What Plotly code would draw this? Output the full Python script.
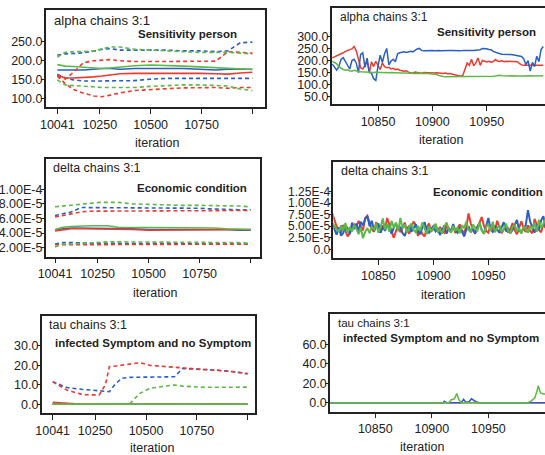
import plotly.graph_objects as go

W, H = 545, 455
BLUE, RED, GREEN = "#2c5fc3", "#ee3a2f", "#5db947"
INK = "#222222"
FONT = "Liberation Sans, Arial, sans-serif"

# ---------------- left panels: running quantiles (iteration grid) ----------------
grid_iter = [10041, 10080, 10120, 10170, 10220, 10260, 10300, 10350, 10420, 10500,
             10580, 10660, 10740, 10820, 10880, 10940, 11000]

alpha_blue_hi = [215, 218, 219, 221, 225, 230, 232, 228, 228, 228, 228, 226, 226, 224, 226, 247, 249]
alpha_blue_med = [176, 176, 176, 176, 178, 180, 180, 178, 180, 180, 180, 180, 178, 176, 178, 178, 178]
alpha_blue_lo = [165, 155, 150, 147, 147, 147, 147, 147, 148, 152, 154, 154, 154, 154, 154, 154, 154]
alpha_red_hi = [160, 152, 170, 195, 200, 202, 203, 200, 198, 198, 198, 198, 198, 199, 224, 222, 220]
alpha_red_med = [163, 155, 155, 156, 158, 160, 162, 166, 167, 167, 168, 168, 167, 166, 165, 168, 170]
alpha_red_lo = [160, 140, 125, 115, 108, 106, 110, 116, 122, 125, 127, 129, 130, 130, 128, 130, 130]
alpha_green_hi = [210, 222, 224, 224, 226, 232, 236, 236, 230, 228, 225, 224, 222, 222, 222, 220, 218]
alpha_green_med = [190, 186, 185, 183, 181, 180, 181, 184, 187, 189, 188, 186, 184, 182, 180, 178, 177]
alpha_green_lo = [150, 137, 135, 134, 132, 130, 130, 130, 130, 133, 135, 137, 137, 136, 134, 126, 122]

# delta values in units of 1e-5
delta_blue_hi = [6.4, 6.6, 6.9, 7.5, 7.5, 7.5, 7.5, 7.5, 7.5, 7.5, 7.5, 7.4, 7.4, 7.3, 7.2, 7.2, 7.2]
delta_blue_med = [4.4, 4.6, 4.7, 4.7, 4.6, 4.6, 4.6, 4.6, 4.6, 4.5, 4.5, 4.5, 4.5, 4.6, 4.5, 4.4, 4.4]
delta_blue_lo = [2.5, 2.7, 2.7, 2.6, 2.6, 2.6, 2.6, 2.6, 2.6, 2.6, 2.6, 2.6, 2.5, 2.5, 2.5, 2.5, 2.5]
delta_red_hi = [6.2, 6.4, 6.6, 6.9, 7.0, 7.0, 7.0, 7.0, 7.0, 7.0, 7.0, 7.0, 7.0, 7.0, 7.1, 7.1, 7.1]
delta_red_med = [4.3, 4.5, 4.6, 4.6, 4.6, 4.5, 4.5, 4.5, 4.5, 4.4, 4.4, 4.5, 4.5, 4.5, 4.5, 4.5, 4.5]
delta_red_lo = [2.4, 2.4, 2.4, 2.4, 2.4, 2.4, 2.5, 2.5, 2.5, 2.5, 2.5, 2.5, 2.5, 2.5, 2.5, 2.5, 2.5]
delta_green_hi = [7.6, 7.7, 7.8, 8.0, 8.1, 8.2, 8.2, 8.2, 8.0, 7.9, 7.8, 7.8, 7.8, 7.8, 7.7, 7.7, 7.6]
delta_green_med = [4.5, 4.8, 4.9, 5.0, 5.0, 5.0, 5.0, 4.8, 4.8, 4.7, 4.7, 4.7, 4.7, 4.7, 4.6, 4.6, 4.5]
delta_green_lo = [2.1, 2.5, 2.5, 2.6, 2.7, 2.8, 2.8, 2.8, 2.8, 2.8, 2.8, 2.8, 2.8, 2.8, 2.8, 2.7, 2.6]

tau_iter = [10041, 10110, 10190, 10270, 10300, 10320, 10350, 10380, 10420, 10470,
            10520, 10600, 10640, 10680, 10760, 10850, 10930, 11000]
tau_blue_hi = [11.6, 8.6, 7.6, 6.8, 6.6, 6.5, 10.5, 13.3, 13.8, 13.8, 13.8, 14.0, 14.1, 18.3, 17.9, 17.5, 16.7, 15.5]
tau_blue_med = [0] * 18
tau_blue_lo = [0] * 18
tau_red_hi = [11.6, 7.3, 4.9, 4.8, 10.0, 19.3, 19.6, 20.0, 20.5, 21.3, 19.9, 19.3, 19.0, 18.4, 17.9, 17.5, 16.7, 15.8]
tau_red_med = [1.0, 0.6, 0, 0, 0, 0, 0, 0, 0, 0, 0, 0, 0, 0, 0, 0, 0, 0]
tau_red_lo = [0] * 18
tau_green_hi = [0, 0, 0, 0, 0, 0, 0, 0, 0.3, 5.6, 8.2, 9.4, 9.9, 9.3, 8.8, 8.7, 8.7, 8.8]
tau_green_med = [0] * 18
tau_green_lo = [0] * 18

# ---------------- right panels: trace history ----------------
trace_iter = list(range(10808, 11003, 2))

alpha_blue_trace = [185, 172, 160, 175, 205, 212, 195, 178, 165, 200,
                    205, 190, 150, 225, 232, 172, 210, 150, 148, 125,
                    118, 178, 222, 192, 228, 250, 182, 198, 205, 195,
                    228, 232, 234, 236, 233, 236, 238, 236, 242, 248,
                    250, 242, 240, 241, 239, 240, 241, 240, 242, 241,
                    240, 241, 242, 240, 241, 241, 240, 242, 241, 240,
                    242, 241, 240, 242, 241, 242, 243, 242, 245, 250,
                    250, 249, 246, 245, 238, 234, 232, 228, 226, 225,
                    225, 224, 225, 224, 222, 219, 218, 217, 208, 183,
                    200, 156, 192, 175, 218, 195, 245, 258]
alpha_red_trace = [211, 215, 220, 222, 226, 232, 238, 240, 245, 248,
                   258, 240, 204, 170, 165, 183, 197, 150, 195, 175,
                   197, 180, 163, 190, 175, 170, 172, 165, 168, 162,
                   165, 160, 158, 156, 158, 152, 150, 148, 152, 150,
                   148, 147, 150, 149, 148, 150, 147, 148, 149, 147,
                   148, 146, 148, 145, 146, 144, 140, 138, 136, 135,
                   138, 165, 190, 180, 205, 178, 190, 211, 180, 200,
                   196, 194, 197, 193, 196, 204, 198, 196, 199, 195,
                   197, 196, 198, 194, 196, 195, 188, 182, 180, 181,
                   179, 180, 181, 180, 179, 180, 181, 180]
alpha_green_trace = [197, 192, 186, 175, 168, 163, 160, 162, 158, 156,
                     160, 156, 155, 154, 153, 154, 152, 153, 152, 151,
                     152, 151, 150, 151, 150, 150, 149, 150, 149, 149,
                     148, 149, 148, 148, 147, 148, 147, 147, 146, 147,
                     146, 146, 147, 146, 146, 145, 146, 145, 142, 138,
                     135, 134, 133, 133, 132, 133, 132, 132, 133, 132,
                     132, 133, 132, 132, 133, 132, 133, 132, 132, 133,
                     133, 132, 133, 134, 135, 136, 139, 139, 137, 136,
                     136, 136, 137, 136, 136, 137, 136, 136, 137, 136,
                     136, 137, 136, 136, 137, 136, 136, 137]

# delta traces in units of 1e-5
delta_blue_trace = [5.5, 4.2, 3.2, 4.8, 3.0, 3.5, 5.2, 4.6, 3.3, 5.8,
                    4.4, 5.6, 3.9, 6.0, 5.2, 6.6, 7.2, 5.0, 6.2, 4.1,
                    4.8, 5.6, 3.6, 4.9, 4.0, 5.3, 4.5, 3.4, 4.7, 5.6,
                    4.2, 4.9, 3.5, 2.9, 4.4, 5.1, 3.8, 4.6, 5.4, 4.0,
                    3.3, 4.8, 5.9, 4.2, 3.6, 4.4, 5.0, 3.9, 4.5, 3.1,
                    4.0, 5.2, 3.4, 4.6, 3.8, 5.5, 4.1, 3.6, 4.9, 3.9,
                    2.8, 4.3, 5.0, 3.7, 4.5, 3.5, 4.8, 5.6, 4.2, 3.4,
                    4.9, 6.8, 4.3, 3.8, 5.1, 4.4, 3.6, 4.7, 5.9, 3.9,
                    4.5, 3.5, 4.2, 5.3, 6.4, 4.0, 3.7, 4.6, 5.2, 8.5,
                    6.0, 4.8, 3.6, 5.4, 4.2, 6.3, 7.2, 5.0]
delta_red_trace = [7.8, 6.5, 5.0, 4.2, 3.6, 5.3, 4.0, 2.8, 3.5, 4.6,
                   5.4, 4.8, 6.2, 5.0, 4.1, 6.8, 7.3, 5.7, 4.4, 3.8,
                   5.9, 4.5, 3.6, 5.2, 4.3, 6.8, 5.5, 3.9, 2.5, 4.0,
                   5.1, 3.7, 4.9, 5.8, 4.1, 3.4, 4.7, 6.0, 5.3, 2.9,
                   4.4, 3.3, 2.8, 4.6, 5.6, 3.9, 4.3, 5.5, 3.7, 4.9,
                   4.1, 3.6, 5.2, 4.4, 3.8, 5.0, 3.5, 4.6, 5.4, 4.0,
                   3.7, 4.8, 7.8, 5.6, 4.2, 3.4, 4.9, 5.8, 7.0, 5.1,
                   4.0, 3.6, 5.3, 4.5, 3.9, 6.2, 4.8, 3.5, 4.3, 5.0,
                   3.6, 4.4, 5.7, 4.1, 3.3, 4.9, 6.1, 4.5, 3.8, 5.2,
                   4.0, 3.5, 6.6, 5.4, 4.2, 3.7, 5.5, 4.6]
delta_green_trace = [5.8, 5.0, 4.4, 3.8, 5.2, 4.1, 5.7, 3.6, 4.8, 3.9,
                     5.3, 4.5, 3.3, 4.7, 2.4, 3.8, 4.6, 3.5, 4.9, 4.2,
                     5.6, 3.6, 4.8, 6.7, 4.3, 5.5, 3.8, 6.2, 4.7, 5.8,
                     3.9, 6.8, 4.5, 5.4, 3.6, 4.9, 5.6, 4.2, 3.7, 5.1,
                     4.0, 5.8, 4.4, 3.3, 5.0, 3.9, 4.6, 5.5, 3.8, 4.4,
                     3.4, 4.9, 5.8, 4.3, 3.6, 5.1, 4.0, 4.7, 3.5, 5.2,
                     4.6, 6.0, 4.2, 3.8, 5.4, 4.5, 3.9, 5.9, 4.1, 3.4,
                     4.8, 5.5, 4.0, 6.0, 3.7, 4.6, 5.2, 3.8, 4.4, 5.6,
                     4.1, 3.5, 4.9, 5.3, 3.9, 4.6, 3.4, 5.0, 4.3, 3.6,
                     5.1, 4.4, 5.8, 3.8, 6.4, 4.7, 5.5, 6.6]

tau_blue_trace_iter = [10808, 10910, 10911, 10913, 10926, 10928, 10930, 10933, 10935, 10937, 10939, 10942, 11004]
tau_blue_trace = [0, 0, 1.5, 0, 0, 3.5, 0.5, 1.0, 4.0, 2.0, 1.0, 0, 0]
tau_red_trace_iter = [10808, 11004]
tau_red_trace = [0, 0]
tau_green_trace_iter = [10808, 10915, 10917, 10919, 10920, 10922, 10924, 10926, 10985, 10988,
                        10991, 10993, 10994, 10996, 10999, 11004]
tau_green_trace = [0, 0, 3, 4, 4, 9.5, 3, 0, 0, 2, 5, 12, 17.5, 10, 9, 8.5]

E5 = 1e-5


def sc(vals):
    return [v * E5 for v in vals]


fig = go.Figure()

DASH = "4px,3px"


def add_quant(ax, xs, hi, med, lo, color):
    xa, ya = ("x" if ax == 1 else "x%d" % ax), ("y" if ax == 1 else "y%d" % ax)
    for vals, dash in ((hi, DASH), (med, "solid"), (lo, DASH)):
        fig.add_trace(go.Scatter(x=xs, y=vals, mode="lines", xaxis=xa, yaxis=ya,
                                 line=dict(color=color, width=1.6, dash=dash),
                                 showlegend=False, hoverinfo="skip"))


def add_line(ax, xs, ys, color, width=1.5):
    xa, ya = ("x" if ax == 1 else "x%d" % ax), ("y" if ax == 1 else "y%d" % ax)
    fig.add_trace(go.Scatter(x=xs, y=ys, mode="lines", xaxis=xa, yaxis=ya,
                             line=dict(color=color, width=width),
                             showlegend=False, hoverinfo="skip"))


# panel 1 (left alpha)
add_quant(1, grid_iter, alpha_blue_hi, alpha_blue_med, alpha_blue_lo, BLUE)
add_quant(1, grid_iter, alpha_red_hi, alpha_red_med, alpha_red_lo, RED)
add_quant(1, grid_iter, alpha_green_hi, alpha_green_med, alpha_green_lo, GREEN)
# panel 2 (right alpha)
add_line(2, trace_iter, alpha_red_trace, RED)
add_line(2, trace_iter, alpha_blue_trace, BLUE)
add_line(2, trace_iter, alpha_green_trace, GREEN)
# panel 3 (left delta)
add_quant(3, grid_iter, sc(delta_blue_hi), sc(delta_blue_med), sc(delta_blue_lo), BLUE)
add_quant(3, grid_iter, sc(delta_red_hi), sc(delta_red_med), sc(delta_red_lo), RED)
add_quant(3, grid_iter, sc(delta_green_hi), sc(delta_green_med), sc(delta_green_lo), GREEN)
# panel 4 (right delta)
add_line(4, trace_iter, sc(delta_red_trace), RED, 2)
add_line(4, trace_iter, sc(delta_blue_trace), BLUE, 2)
add_line(4, trace_iter, sc(delta_green_trace), GREEN, 2)
# panel 5 (left tau)
add_quant(5, tau_iter, tau_blue_hi, tau_blue_med, tau_blue_lo, BLUE)
add_quant(5, tau_iter, tau_red_hi, tau_red_med, tau_red_lo, RED)
add_quant(5, tau_iter, tau_green_hi, tau_green_med, tau_green_lo, GREEN)
# panel 6 (right tau)
add_line(6, tau_red_trace_iter, tau_red_trace, RED)
add_line(6, tau_blue_trace_iter, tau_blue_trace, BLUE)
add_line(6, tau_green_trace_iter, tau_green_trace, GREEN)

# panel geometry in pixels: left, right, top, bottom
boxes = {
    1: (45.7, 265, 10, 107),
    2: (331.7, 545, 8.3, 104.3),
    3: (45.7, 260, 159.3, 256.7),
    4: (333.3, 545, 161.7, 258.3),
    5: (41.7, 255, 316, 413.3),
    6: (330, 545, 314, 411.7),
}
xranges = {1: [9984, 11062], 2: [10807.4, 11003.6], 3: [9995.4, 11045.6],
           4: [10809, 11001.5], 5: [9987, 11036], 6: [10810, 11000]}
yranges = {1: [79, 333], 2: [19, 416], 3: [0.77e-5, 1.41e-4], 4: [-1.94e-5, 1.90e-4],
           5: [-4.6, 45.2], 6: [-9.2, 91]}

left_xticks = [10041, 10250, 10500, 10750, 11000]
left_xtext = ["10041", "10250", "10500", "10750", ""]
right_xticks = [10850, 10900, 10950]
right_xtext = ["10850", "10900", "10950"]

yticks = {
    1: ([100, 150, 200, 250], ["100.0", "150.0", "200.0", "250.0"]),
    2: ([50, 100, 150, 200, 250, 300], ["50.0", "100.0", "150.0", "200.0", "250.0", "300.0"]),
    3: ([2e-5, 4e-5, 6e-5, 8e-5, 1e-4], ["2.00E-5", "4.00E-5", "6.00E-5", "8.00E-5", "1.00E-4"]),
    4: ([0, 2.5e-5, 5e-5, 7.5e-5, 1e-4, 1.25e-4], ["0.0", "2.50E-5", "5.00E-5", "7.50E-5", "1.00E-4", "1.25E-4"]),
    5: ([0, 10, 20, 30], ["0.0", "10.0", "20.0", "30.0"]),
    6: ([0, 20, 40, 60], ["0.0", "20.0", "40.0", "60.0"]),
}

layout = dict(width=W, height=H, margin=dict(l=0, r=0, t=0, b=0),
              paper_bgcolor="white", plot_bgcolor="white", template="none",
              font=dict(family=FONT, color=INK, size=12), showlegend=False)

for i in range(1, 7):
    l, r, t, b = boxes[i]
    left = i % 2 == 1
    xk = "xaxis" if i == 1 else "xaxis%d" % i
    yk = "yaxis" if i == 1 else "yaxis%d" % i
    an = "" if i == 1 else str(i)
    layout[xk] = dict(domain=[l / W, r / W], range=xranges[i], anchor="y" + an,
                      showline=True, linecolor=INK, linewidth=1.5, mirror=True,
                      ticks="outside", ticklen=5, tickwidth=1.2, tickcolor=INK,
                      tickvals=left_xticks if left else right_xticks,
                      ticktext=left_xtext if left else right_xtext,
                      tickfont=dict(size=12.5, family=FONT, color=INK),
                      showgrid=False, zeroline=False, automargin=False, fixedrange=True)
    tv, tt = yticks[i]
    layout[yk] = dict(domain=[1 - b / H, 1 - t / H], range=yranges[i], anchor="x" + an,
                      showline=True, linecolor=INK, linewidth=1.5, mirror=left,
                      ticks="outside", ticklen=3, tickwidth=1.2, tickcolor=INK,
                      ticklabelstandoff=-4,
                      tickvals=tv, ticktext=tt,
                      tickfont=dict(size=12.5 if i != 4 else 12, family=FONT, color=INK),
                      showgrid=False, zeroline=False, automargin=False, fixedrange=True)

annos = []


def txt(text, x, y, size, bold=False, anchor="left"):
    annos.append(dict(text=("<b>%s</b>" % text) if bold else text, x=x / W, y=1 - y / H,
                      xref="paper", yref="paper", xanchor=anchor, yanchor="middle",
                      showarrow=False, font=dict(size=size, family=FONT, color=INK)))


txt("alpha chains 3:1", 52, 20.5, 13.2)
txt("Sensitivity person", 136, 34.3, 11.5, True)
txt("alpha chains 3:1", 337.5, 16.7, 12)
txt("Sensitivity person", 435, 31.7, 11.5, True)
txt("delta chains 3:1", 50.5, 168.3, 12.5)
txt("Economic condition", 134.5, 188.3, 11.5, True)
txt("delta chains 3:1", 338.5, 170.7, 12.5)
txt("Economic condition", 430.5, 192.3, 11.5, True)
txt("tau chains 3:1", 47, 325, 12.5)
txt("infected Symptom and no Symptom", 53, 343.3, 11.5, True)
txt("tau chains 3:1", 335.5, 323.3, 11.5)
txt("infected Symptom and no Symptom", 341, 338.3, 11.5, True)

txt("iteration", 157, 143, 12.5, anchor="center")
txt("iteration", 441, 140, 12.5, anchor="center")
txt("iteration", 155, 292.7, 12.5, anchor="center")
txt("iteration", 443, 295, 12.5, anchor="center")
txt("iteration", 152, 448.3, 12.5, anchor="center")
txt("iteration", 422, 446.7, 12.5, anchor="center")

layout["annotations"] = annos
fig.update_layout(**layout)
fig.write_html("out.html")
